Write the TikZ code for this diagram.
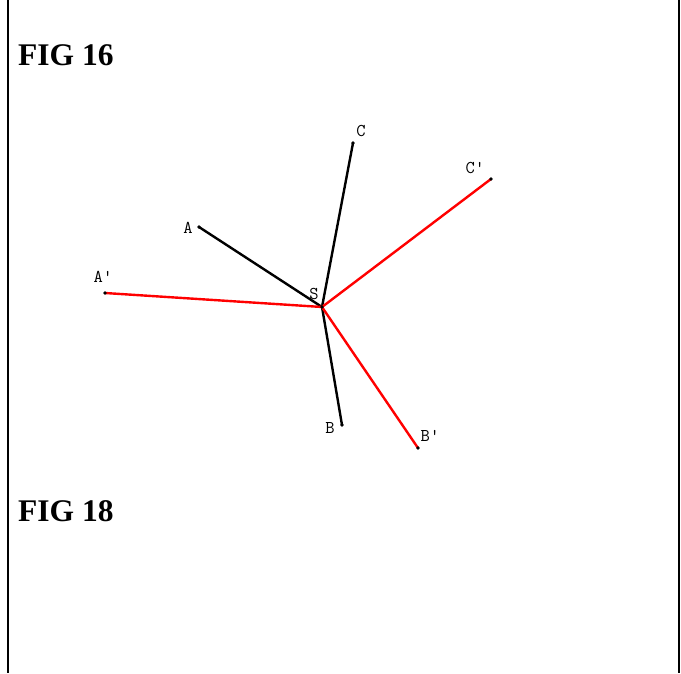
\documentclass[tikz,border=0pt]{standalone}
\usepackage{fontspec}
\setmainfont{Liberation Serif}
\usetikzlibrary{positioning}
\definecolor{rayRed}{RGB}{255, 0, 0}

\tikzset{
  ray/.style={line width=2.4pt},
  rayimg/.style={ray, rayRed},
  ptlabel/.style={font=\ttfamily\fontsize{18}{18}\selectfont, inner sep=0pt},
  figtitle/.style={font=\bfseries\fontsize{31.5}{31.5}\selectfont, inner sep=0pt, anchor=base west}
}

\begin{document}
\begin{tikzpicture}[x=1pt, y=-1pt]
      \useasboundingbox (0,0) rectangle (681,673);
      % frame
      \draw[line width=2.2pt] (8,0) -- (8,673);
      \draw[line width=2.2pt] (679,0) -- (679,673);

      % titles
      \node[figtitle] (fig16) at (18,65) {FIG 16};
      \node[figtitle] (fig18) at (18,521) {FIG 18};

      % points
      \coordinate (S) at (322,307);
      \coordinate (A) at (199,227);
      \coordinate (B) at (342,425);
      \coordinate (C) at (353,143);
      \coordinate (A') at (105,293);
      \coordinate (B') at (418,448);
      \coordinate (C') at (491,179);

      % original triangle rays
      \draw[ray] (S) -- (A);
      \draw[ray] (S) -- (B);
      \draw[ray] (S) -- (C);

      % image rays
      \draw[rayimg] (S) -- (A');
      \draw[rayimg] (S) -- (B');
      \draw[rayimg] (S) -- (C');

      % end dots
      \foreach \p in {S, A, B, C, A', B', C'}
        \fill (\p) circle (1.8);

      % labels
      \node[ptlabel] (lblS) at (314,294) {S};
      \node[ptlabel] (lblA) at (188,228) {A};
      \node[ptlabel] (lblB) at (330,428) {B};
      \node[ptlabel] (lblC) at (361,131) {C};
      \node[ptlabel] (lblA') at (103,277) {A'};
      \node[ptlabel] (lblB') at (430,436) {B'};
      \node[ptlabel] (lblC') at (475,168) {C'};
    \end{tikzpicture}
\end{document}
